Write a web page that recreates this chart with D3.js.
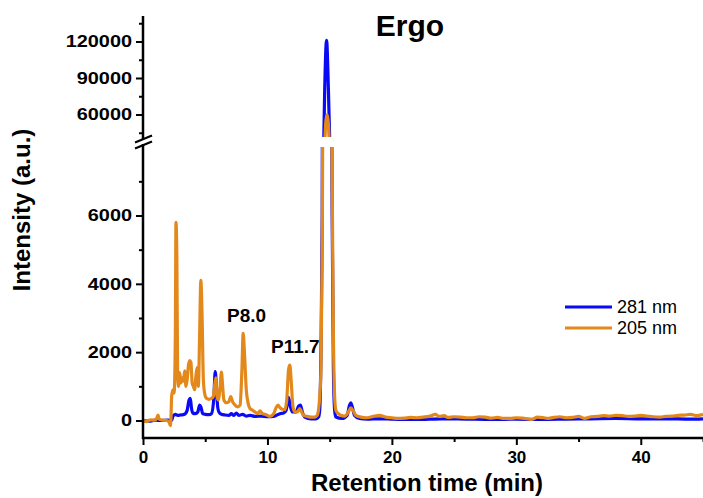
<!DOCTYPE html>
<html><head><meta charset="utf-8">
<script src="https://cdn.jsdelivr.net/npm/d3@7"></script>
<style>body{margin:0;background:#fff}svg{display:block}text{font-family:"Liberation Sans",Arial,sans-serif}</style>
</head><body><svg id="c" width="703" height="498"></svg>
<script>
// ---- data ----
const title = "Ergo";
const xTicks = [0, 10, 20, 30, 40];
const xMinorTicks = [5, 15, 25, 35, 45];
const yLowTicks = [0, 2000, 4000, 6000];
const yLowMinor = [1000, 3000, 5000, 7000];
const yHighTicks = [60000, 90000, 120000];
const yHighMinor = [45000, 75000, 105000, 135000];
const seriesNames = ["281 nm", "205 nm"];
const seriesColors = ["#0a0af5", "#e3891c"];

const t205 = [0,0.3,0.6,0.9,1.1,1.2,1.3,1.6,1.9,2.1,2.2,2.25,2.3,2.4,2.5,2.6,2.65,2.72,2.78,2.85,2.95,3.05,3.15,3.25,3.35,3.45,3.55,3.65,3.75,3.85,3.95,4.05,4.15,4.25,4.35,4.45,4.55,4.65,4.75,4.85,4.95,5.1,5.3,5.5,5.65,5.75,5.85,5.95,6.05,6.2,6.3,6.4,6.5,6.7,6.9,7.05,7.2,7.4,7.6,7.8,7.95,8.05,8.15,8.3,8.45,8.6,8.8,9.0,9.2,9.4,9.6,9.8,10.0,10.2,10.5,10.7,10.85,11.0,11.2,11.4,11.55,11.7,11.8,11.9,12.05,12.2,12.4,12.6,12.75,12.9,13.2,13.5,13.8,14.0,14.1,14.2,14.3,14.4,14.5,14.6,14.7,14.8,14.9,15.0,15.1,15.2,15.3,15.4,15.5,15.7,15.9,16.2,16.5,16.7,16.9,17.1,17.5,18.0,18.5,19.0,19.5,20,20.5,21,21.5,22,22.5,23,23.5,23.8,24.2,24.5,25,25.5,26,26.5,27,27.5,28,28.5,29,29.5,30,30.5,31.2,31.7,32.2,32.5,33,33.5,34,34.5,35,35.5,36,36.5,37,37.5,38,38.5,39,39.5,40,40.5,41,41.5,42,42.5,43,43.5,44,44.5,45];
const v205 = [0,-30,20,10,60,160,40,10,0,-50,-150,100,700,900,800,2500,5800,4800,1500,1000,1400,1100,1250,1150,1450,1000,1200,1600,1750,1700,1100,1000,900,1300,1550,1000,2500,4100,3000,1200,800,650,620,650,700,1000,1250,700,600,1000,1420,1000,600,520,550,700,550,450,400,450,1500,2550,2000,900,500,350,300,250,200,280,200,180,150,120,200,380,450,380,330,320,600,1500,1620,1200,400,250,250,350,250,150,120,100,100,150,300,700,1500,5000,14000,35000,55000,60000,52000,30000,14000,7000,2500,700,300,200,150,130,250,370,280,150,100,80,120,150,100,80,60,70,90,80,100,120,180,120,140,90,110,100,80,80,110,100,70,90,60,60,80,70,30,100,80,60,90,110,80,90,120,60,110,120,140,130,150,140,120,130,150,130,110,100,120,130,150,160,180,140,180,150,170];

const t281 = [0,0.5,1,1.5,2.0,2.3,2.4,2.6,2.8,3.0,3.2,3.4,3.55,3.7,3.8,3.9,4.0,4.2,4.4,4.55,4.65,4.8,5.0,5.3,5.5,5.7,5.8,5.9,6.0,6.1,6.3,6.6,6.9,7.1,7.3,7.5,7.7,8.0,8.3,8.6,9.0,9.5,10,10.5,11.0,11.3,11.5,11.7,11.85,12.0,12.3,12.5,12.65,12.8,13.0,13.5,13.9,14.1,14.2,14.3,14.4,14.5,14.6,14.75,14.9,15.0,15.1,15.2,15.3,15.4,15.5,16.0,16.4,16.6,16.7,16.85,17.0,17.4,18,19,20,22,24,26,28,30,32,34,36,38,40,42,44,45];
const v281 = [0,-20,10,0,10,0,120,180,150,160,170,200,300,600,650,350,220,200,250,450,400,200,180,170,200,700,1430,1000,400,250,180,160,150,200,150,220,150,180,130,150,120,130,110,120,200,220,300,680,400,250,250,420,450,250,100,50,50,100,300,2000,6000,25000,80000,121000,80000,40000,16000,6000,1500,300,100,60,150,450,520,350,150,60,40,50,40,30,50,40,30,40,30,40,50,60,50,50,40,50];

// ---- layout ----
const svg = d3.select("#c");
const X0 = 143, X1 = 703;
const yAxisBottom = 438;
const x = d3.scaleLinear().domain([0, 45]).range([X0, X1]);
const yLow = d3.scaleLinear().domain([0, 6000]).range([420.5, 215.5]);
const yHigh = d3.scaleLinear().domain([60000, 120000]).range([114.5, 41.5]);
const lowTop = 147, highBottom = 137, highTop = 16;

const defs = svg.append("defs");
defs.append("clipPath").attr("id","clipLow").append("rect")
  .attr("x", X0).attr("y", lowTop).attr("width", X1 - X0).attr("height", yAxisBottom - lowTop);
defs.append("clipPath").attr("id","clipHigh").append("rect")
  .attr("x", X0).attr("y", 0).attr("width", X1 - X0).attr("height", highBottom);

const series = [
  {t: t281, v: v281, c: seriesColors[0]},
  {t: t205, v: v205, c: seriesColors[1]}
];
const gLow = svg.append("g").attr("clip-path","url(#clipLow)");
const gHigh = svg.append("g").attr("clip-path","url(#clipHigh)");
series.forEach(s => {
  const pts = s.t.map((t,i)=>[t, s.v[i]]);
  const lineLow = d3.line().x(d=>x(d[0])).y(d=>yLow(d[1])).curve(d3.curveMonotoneX);
  const lineHigh = d3.line().x(d=>x(d[0])).y(d=>yHigh(d[1])).curve(d3.curveMonotoneX);
  gLow.append("path").attr("d", lineLow(pts)).attr("fill","none").attr("stroke", s.c)
    .attr("stroke-width", 3.2).attr("stroke-linejoin","round");
  gHigh.append("path").attr("d", lineHigh(pts)).attr("fill","none").attr("stroke", s.c)
    .attr("stroke-width", 3.2).attr("stroke-linejoin","round");
});

// ---- axes ----
const fmt = d3.format("d");
const axisStyle = g => {
  g.select(".domain").remove();
  g.selectAll(".tick line").attr("stroke","#000").attr("stroke-width",2);
  g.selectAll(".tick text").attr("font-weight","bold").attr("font-size","17px").attr("fill","#000");
};
const yLabelStyle = g => {
  g.selectAll(".tick text").attr("x", -11 / 1.17).attr("transform","scale(1.17,1)");
};
// x axis
svg.append("g").attr("transform",`translate(0,${yAxisBottom})`)
  .call(d3.axisBottom(x).tickValues(xTicks).tickFormat(fmt).tickSize(7).tickPadding(6)).call(axisStyle);
svg.append("g").attr("transform",`translate(0,${yAxisBottom})`)
  .call(d3.axisBottom(x).tickValues(xMinorTicks).tickFormat("").tickSize(4)).call(axisStyle);
svg.append("line").attr("x1",X0-1).attr("x2",X1).attr("y1",yAxisBottom).attr("y2",yAxisBottom)
  .attr("stroke","#000").attr("stroke-width",2.5);

// y low
svg.append("g").attr("transform",`translate(${X0},0)`)
  .call(d3.axisLeft(yLow).tickValues(yLowTicks).tickFormat(fmt).tickSize(7).tickPadding(5)).call(axisStyle).call(yLabelStyle);
svg.append("g").attr("transform",`translate(${X0},0)`)
  .call(d3.axisLeft(yLow).tickValues(yLowMinor).tickFormat("").tickSize(4)).call(axisStyle);
// y high
svg.append("g").attr("transform",`translate(${X0},0)`)
  .call(d3.axisLeft(yHigh).tickValues(yHighTicks).tickFormat(fmt).tickSize(7).tickPadding(5)).call(axisStyle).call(yLabelStyle);
svg.append("g").attr("transform",`translate(${X0},0)`)
  .call(d3.axisLeft(yHigh).tickValues(yHighMinor).tickFormat("").tickSize(4)).call(axisStyle);

svg.append("line").attr("x1",X0).attr("x2",X0).attr("y1",highTop).attr("y2",139)
  .attr("stroke","#000").attr("stroke-width",2.5);
svg.append("line").attr("x1",X0).attr("x2",X0).attr("y1",144).attr("y2",yAxisBottom+1)
  .attr("stroke","#000").attr("stroke-width",2.5);
// break marks
[139, 145].forEach(yc => {
  svg.append("line").attr("x1",X0-8).attr("y1",yc+3.5).attr("x2",X0+9).attr("y2",yc-3.5)
    .attr("stroke","#000").attr("stroke-width",2.2);
});

// ---- texts ----
svg.append("text").attr("x",410).attr("y",36).attr("text-anchor","middle")
  .attr("font-weight","bold").attr("font-size","30px").text(title);
svg.append("text").attr("x",427).attr("y",491).attr("text-anchor","middle")
  .attr("font-weight","bold").attr("font-size","24px").text("Retention time (min)");
svg.append("text").attr("transform","translate(30,210) rotate(-90)").attr("text-anchor","middle")
  .attr("font-weight","bold").attr("font-size","24px").text("Intensity (a.u.)");
svg.append("text").attr("x",227).attr("y",322).attr("font-weight","bold").attr("font-size","19px").text("P8.0");
svg.append("text").attr("x",271).attr("y",353).attr("font-weight","bold").attr("font-size","19px").text("P11.7");

// legend
const leg = svg.append("g");
[307, 328].forEach((ly, i) => {
  leg.append("line").attr("x1",565).attr("x2",612).attr("y1",ly).attr("y2",ly)
    .attr("stroke",seriesColors[i]).attr("stroke-width",3);
  leg.append("text").attr("x",617).attr("y",ly+6).attr("font-size","18px").text(seriesNames[i]);
});
</script></body></html>
